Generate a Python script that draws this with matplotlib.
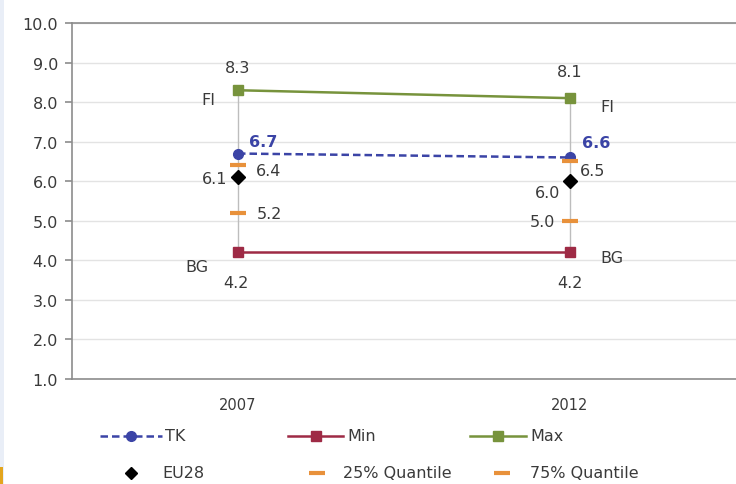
import matplotlib
matplotlib.use("Agg")
import matplotlib.pyplot as plt
from matplotlib.lines import Line2D
from matplotlib.patches import Rectangle

# ---- data -------------------------------------------------------------
years = ["2007", "2012"]
tk = [6.7, 6.6]
min_vals = [4.2, 4.2]
max_vals = [8.3, 8.1]
eu28 = [6.1, 6.0]
q25 = [5.2, 5.0]
q75 = [6.4, 6.5]
min_country = ["BG", "BG"]
max_country = ["FI", "FI"]
y_ticks = [1, 2, 3, 4, 5, 6, 7, 8, 9, 10]

# ---- style ------------------------------------------------------------
C_TK = "#3B44A6"
C_MIN = "#9E2A45"
C_MAX = "#77933C"
C_Q = "#E8913B"
C_TXT = "#3A3A3A"
C_AX = "#8C8C8C"
FS = 11.5

W, H = 736, 485
fig = plt.figure(figsize=(W / 100, H / 100), dpi=100)
fig.patch.set_facecolor("white")

# thin page-edge decorations
fig.add_artist(Rectangle((0, 0), 4 / W, 1, transform=fig.transFigure,
                         facecolor="#E9EEF7", edgecolor="none"))
fig.add_artist(Rectangle((0, 0), 3 / W, 17 / H, transform=fig.transFigure,
                         facecolor="#E3A51E", edgecolor="none"))

ax = fig.add_axes([72 / W, (H - 380) / H, (W - 72) / W, (380 - 24) / H])
ax.set_xlim(-0.5, 1.5)
ax.set_ylim(1, 10)
x = list(range(len(years)))

# gridlines
ax.set_yticks(y_ticks)
ax.set_yticklabels([f"{v:.1f}" for v in y_ticks])
ax.yaxis.grid(True, color="#E3E3E3", linewidth=1.0)
ax.set_axisbelow(True)

# high-low connectors
ax.vlines(x, min_vals, max_vals, color="#BDBDBD", linewidth=1.0, zorder=2)

ax.plot(x, max_vals, color=C_MAX, linewidth=1.8, marker="s", markersize=7.5,
        zorder=3)
ax.plot(x, min_vals, color=C_MIN, linewidth=1.8, marker="s", markersize=7.5,
        zorder=3)
ax.plot(x, tk, color=C_TK, linewidth=1.8, linestyle=(0, (3, 1.6)),
        marker="o", markersize=7, zorder=4)
ax.plot(x, q25, linestyle="none", marker="_", markersize=11,
        markeredgewidth=3, color=C_Q, zorder=4)
ax.plot(x, q75, linestyle="none", marker="_", markersize=11,
        markeredgewidth=3, color=C_Q, zorder=4)
ax.plot(x, eu28, linestyle="none", marker="D", markersize=7.5,
        color="black", zorder=5)

# spines and ticks
for side in ("right",):
    ax.spines[side].set_visible(False)
for side in ("left", "bottom", "top"):
    ax.spines[side].set_color(C_AX)
    ax.spines[side].set_linewidth(1.2)
ax.set_xticks(x)
ax.set_xticklabels(years)
ax.tick_params(axis="x", length=0, pad=13, labelsize=FS - 1, labelcolor=C_TXT)
ax.tick_params(axis="y", length=5, width=1.2, color=C_AX, direction="out",
               pad=5, labelsize=FS, labelcolor=C_TXT)


def px(dx, dy):
    """pixel offset (right, down) -> offset points"""
    return (dx * 0.72, -dy * 0.72)


def label(xi, yv, text, off, color=C_TXT, weight="normal"):
    ax.annotate(text, (xi, yv), xytext=px(*off), textcoords="offset points",
                ha="center", va="center", fontsize=FS, color=color,
                fontweight=weight, zorder=6)


# value labels, 2007 then 2012
label(0, max_vals[0], f"{max_vals[0]:.1f}", (0, -23))
label(0, max_vals[0], max_country[0], (-30, 9))
label(0, tk[0], f"{tk[0]:.1f}", (25, -12), color=C_TK, weight="bold")
label(0, q75[0], f"{q75[0]:.1f}", (31, 5))
label(0, eu28[0], f"{eu28[0]:.1f}", (-23, 1))
label(0, q25[0], f"{q25[0]:.1f}", (31, 1))
label(0, min_vals[0], min_country[0], (-41, 14))
label(0, min_vals[0], f"{min_vals[0]:.1f}", (-2, 30))

label(1, max_vals[1], f"{max_vals[1]:.1f}", (0, -27))
label(1, max_vals[1], max_country[1], (37, 8))
label(1, tk[1], f"{tk[1]:.1f}", (26, -15), color=C_TK, weight="bold")
label(1, q75[1], f"{q75[1]:.1f}", (23, 9))
label(1, eu28[1], f"{eu28[1]:.1f}", (-22, 11))
label(1, q25[1], f"{q25[1]:.1f}", (-28, 1))
label(1, min_vals[1], min_country[1], (42, 5))
label(1, min_vals[1], f"{min_vals[1]:.1f}", (0, 30))


# ---- legend (figure pixel coordinates) -------------------------------
def fx(v):
    return v / W


def fy(v):
    return (H - v) / H


def key_line(x0, x1, y, color, ls, marker, ms):
    fig.add_artist(Line2D([fx(x0), fx(x1)], [fy(y), fy(y)], color=color,
                          linewidth=1.8, linestyle=ls,
                          transform=fig.transFigure))
    fig.add_artist(Line2D([fx((x0 + x1) / 2)], [fy(y)], color=color,
                          marker=marker, markersize=ms, linestyle="none",
                          transform=fig.transFigure))


def key_marker(xc, y, color, marker, ms, mew=1.0):
    fig.add_artist(Line2D([fx(xc)], [fy(y)], color=color, marker=marker,
                          markersize=ms, markeredgewidth=mew,
                          linestyle="none", transform=fig.transFigure))


def key_text(x0, y, text):
    fig.text(fx(x0), fy(y), text, ha="left", va="center", fontsize=FS,
             color=C_TXT)


row1, row2 = 437, 474
key_line(100, 162, row1, C_TK, (0, (3, 1.6)), "o", 7)
key_text(165, row1, "TK")
key_line(288, 343, row1, C_MIN, "-", "s", 7.5)
key_text(347, row1, "Min")
key_line(470, 526, row1, C_MAX, "-", "s", 7.5)
key_text(530, row1, "Max")

key_marker(131, row2, "black", "D", 6.5)
key_text(162, row2, "EU28")
key_marker(317, row2, C_Q, "_", 11, 3)
key_text(343, row2, "25% Quantile")
key_marker(502, row2, C_Q, "_", 11, 3)
key_text(530, row2, "75% Quantile")

fig.savefig("out.png", dpi=100, facecolor="white")
